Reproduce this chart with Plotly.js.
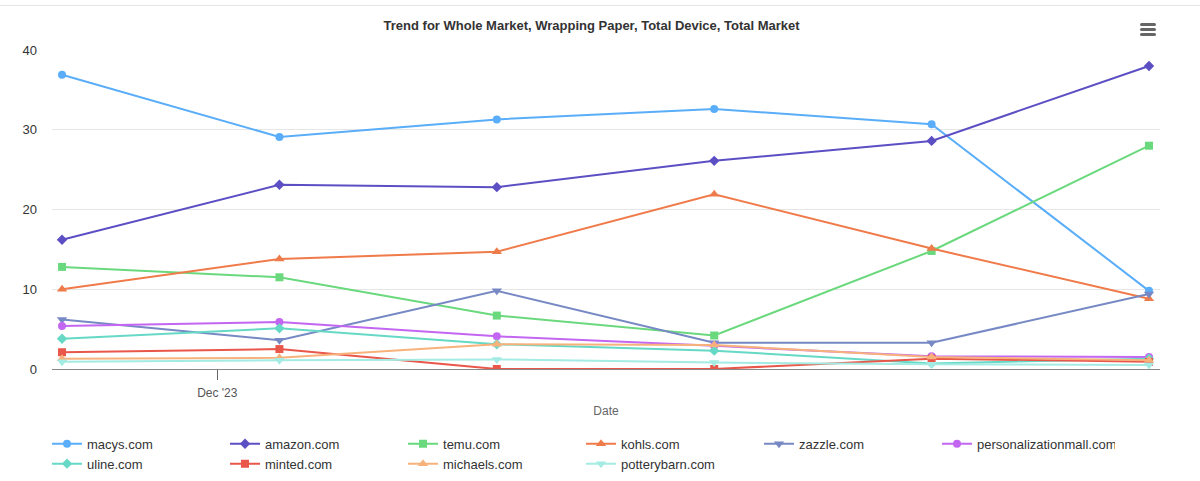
<!DOCTYPE html>
<html>
<head>
<meta charset="utf-8">
<script src="https://cdn.plot.ly/plotly-3.0.1.min.js"></script>
<style>
  html, body { margin: 0; padding: 0; background: #fff; }
  #wrap { position: relative; width: 1200px; height: 481px; overflow: hidden; }
  #topline { position: absolute; left: 0; top: 5px; width: 1200px; height: 1px; background: #e6e6e6; }
  #menu { position: absolute; left: 1140px; top: 23px; width: 16px; height: 14px; }
  #menu div { height: 3px; background: #666; border-radius: 1.5px; margin-bottom: 2px; }
  #chart { position: absolute; left: 0; top: 0; width: 1200px; height: 481px; }
</style>
</head>
<body>
<div id="wrap">
  <div id="chart"></div>
  <div id="topline"></div>
  <div id="menu"><div></div><div></div><div></div></div>
</div>
<script>
const dates = ['2023-11-26', '2023-12-03', '2023-12-10', '2023-12-17', '2023-12-24', '2023-12-31'];

const seriesNames = ['macys.com', 'amazon.com', 'temu.com', 'kohls.com', 'zazzle.com',
  'personalizationmall.com', 'uline.com', 'minted.com', 'michaels.com', 'potterybarn.com'];

const macys = [36.9, 29.1, 31.3, 32.6, 30.7, 9.8];
const amazon = [16.2, 23.1, 22.8, 26.1, 28.6, 38.0];
const temu = [12.8, 11.5, 6.7, 4.2, 14.8, 28.0];
const kohls = [10.0, 13.8, 14.7, 21.9, 15.1, 8.8];
const zazzle = [6.2, 3.6, 9.8, 3.3, 3.3, 9.4];
const personalizationmall = [5.4, 5.9, 4.1, 2.9, 1.6, 1.5];
const uline = [3.8, 5.1, 3.1, 2.3, 0.7, 1.3];
const minted = [2.1, 2.5, 0.0, 0.0, 1.3, 0.9];
const michaels = [1.3, 1.4, 3.1, 3.0, 1.5, 1.1];
const potterybarn = [0.9, 1.1, 1.2, 0.8, 0.6, 0.5];

const values = [macys, amazon, temu, kohls, zazzle, personalizationmall, uline, minted, michaels, potterybarn];
const colors = ['#5aaef9', '#5c4fc4', '#6ad97d', '#f07b4a', '#7789c4', '#c366f2', '#66d9c6', '#e9574a', '#f7b27b', '#a3ebe3'];
const symbols = ['circle', 'diamond', 'square', 'triangle-up', 'triangle-down',
  'circle', 'diamond', 'square', 'triangle-up', 'triangle-down'];

const tickVals = ['2023-12-01'];
const tickText = ["Dec '23"];

const traces = seriesNames.map((name, i) => ({
  type: 'scatter',
  mode: 'lines+markers',
  name: name,
  x: dates,
  y: values[i],
  line: { color: colors[i], width: 2 },
  marker: { color: colors[i], symbol: symbols[i], size: symbols[i].indexOf('triangle') === 0 ? 9 : 8 }
}));

const layout = {
  width: 1200,
  height: 481,
  margin: { l: 52, r: 40, t: 50, b: 112, autoexpand: false },
  paper_bgcolor: '#ffffff',
  plot_bgcolor: '#ffffff',
  font: { family: '"Liberation Sans", Arial, sans-serif', color: '#333333', size: 12 },
  title: {
    text: '<b>Trend for Whole Market, Wrapping Paper, Total Device, Total Market</b>',
    font: { size: 13, color: '#333333' },
    x: 0.493, xanchor: 'center', y: 0.947, yanchor: 'middle'
  },
  xaxis: {
    type: 'date',
    range: ['2023-11-25 16:15', '2023-12-31 08:30'],
    tickmode: 'array',
    tickvals: tickVals,
    ticktext: tickText,
    ticks: 'outside',
    ticklen: 10,
    tickcolor: '#666666',
    ticklabelstandoff: 3,
    tickfont: { size: 12, color: '#555555' },
    showgrid: false,
    showline: true,
    linecolor: '#888888',
    linewidth: 1,
    zeroline: false,
    automargin: false,
    title: { text: 'Date', font: { size: 12, color: '#666666' }, standoff: 7 }
  },
  yaxis: {
    range: [0, 40],
    tickvals: [0, 10, 20, 30, 40],
    showgrid: true,
    gridcolor: '#e6e6e6',
    zeroline: false,
    showline: false,
    ticks: '',
    automargin: false,
    ticklabelstandoff: 14,
    tickfont: { size: 13, color: '#333333' }
  },
  showlegend: true,
  legend: {
    orientation: 'h',
    x: -0.0045,
    xanchor: 'left',
    y: -0.1875,
    yanchor: 'top',
    entrywidth: 133,
    entrywidthmode: 'pixels',
    font: { size: 13, color: '#333333' },
    tracegroupgap: 0,
    itemwidth: 30
  }
};

Plotly.newPlot('chart', traces, layout, { displayModeBar: false, responsive: false });
</script>
</body>
</html>
